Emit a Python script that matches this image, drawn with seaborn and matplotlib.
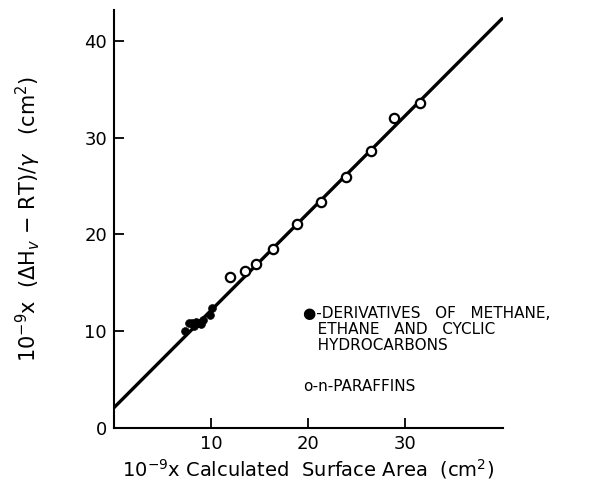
import matplotlib
matplotlib.use("Agg")
import matplotlib.pyplot as plt
import seaborn as sns
import numpy as np
import pandas as pd

# filled points: derivatives of methane, ethane and cyclic hydrocarbons
deriv_x = [7.3, 7.7, 8.0, 8.2, 8.5, 8.7, 9.0, 9.2, 9.9, 10.1]
deriv_y = [10.0, 10.8, 10.8, 10.5, 11.0, 10.8, 10.7, 11.2, 11.7, 12.4]

# open points: n-paraffins
paraf_x = [12.0, 13.5, 14.6, 16.4, 18.9, 21.3, 23.9, 26.5, 28.9, 31.5]
paraf_y = [15.6, 16.2, 17.0, 18.5, 21.1, 23.4, 25.9, 28.6, 32.0, 33.6]

# fitted straight line
fit_slope = 1.005
fit_icpt = 2.1
fit_x = [0, 40]

x_ticks = [10, 20, 30]
y_ticks = [0, 10, 20, 30, 40]

sns.set_style("ticks", {"axes.edgecolor": "black", "text.color": "black",
                        "axes.labelcolor": "black", "xtick.color": "black",
                        "ytick.color": "black"})
plt.rcParams['font.family'] = ['DejaVu Sans']

fig = plt.figure(figsize=(5.89, 4.83), dpi=100)
ax = fig.add_axes([0.1935, 0.1139, 0.6604, 0.8654])

line_df = pd.DataFrame({"x": fit_x, "y": [fit_icpt + fit_slope * v for v in fit_x]})
sns.lineplot(data=line_df, x="x", y="y", ax=ax, color="black", linewidth=2.4, zorder=1)

deriv_df = pd.DataFrame({"x": deriv_x, "y": deriv_y})
paraf_df = pd.DataFrame({"x": paraf_x, "y": paraf_y})
sns.scatterplot(data=deriv_df, x="x", y="y", ax=ax, color="black", s=32,
                edgecolor="black", zorder=3)
sns.scatterplot(data=paraf_df, x="x", y="y", ax=ax, facecolor="white", s=45,
                edgecolor="black", linewidth=1.6, zorder=3)

ax.set_xlim(0, 40.1)
ax.set_ylim(0, 43.2)
ax.set_xticks(x_ticks)
ax.set_yticks(y_ticks)
ax.tick_params(direction="in", length=7, width=1.3, labelsize=13, pad=5)
sns.despine(ax=ax)
for sp in ["left", "bottom"]:
    ax.spines[sp].set_linewidth(1.5)

ax.set_xlabel(r"10$^{-9}$x Calculated  Surface Area  (cm$^{2}$)", fontsize=14, labelpad=3)
ax.set_ylabel(r"10$^{-9}$x  ($\Delta$H$_{v}$ $-$ RT)/$\gamma$   (cm$^{2}$)", fontsize=15, labelpad=30)

ax.text(0.487, 0.293, "\u25cf-DERIVATIVES   OF   METHANE,\n   ETHANE   AND   CYCLIC\n   HYDROCARBONS",
        transform=ax.transAxes, fontsize=11, va="top", ha="left", linespacing=1.1)
ax.text(0.487, 0.118, "o-n-PARAFFINS",
        transform=ax.transAxes, fontsize=11, va="top", ha="left")

fig.savefig("out.png", dpi=100)
